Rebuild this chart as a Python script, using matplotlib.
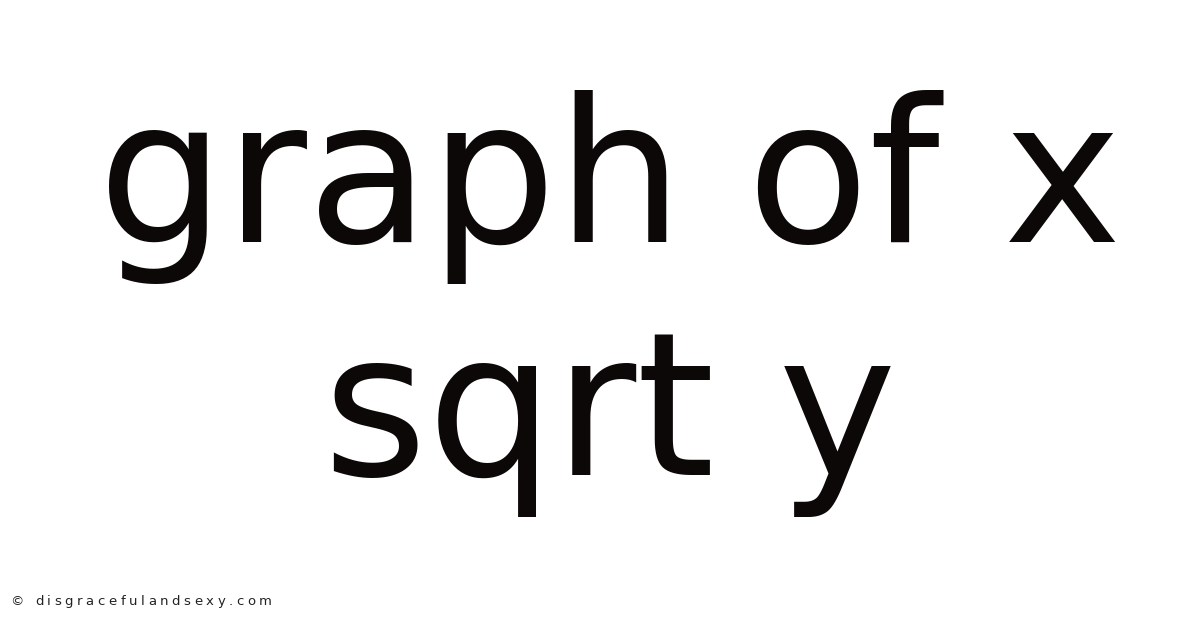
import matplotlib
matplotlib.use("Agg")
import matplotlib.pyplot as plt
from matplotlib.font_manager import FontProperties

title_lines = ["graph of x", "sqrt y"]
watermark = "© disgracefulandsexy.com"

fig = plt.figure(figsize=(12, 6.28), dpi=100)
fig.patch.set_facecolor("white")
W, H = 1200, 628
baselines = [242, 475]
for line, b in zip(title_lines, baselines):
    fig.text(610 / W, 1 - b / H, line, ha="center", va="baseline",
             fontsize=144, family="DejaVu Sans", color="#0d0808")

# watermark: letter-spaced small text, drawn one character at a time
wm_size = 9.5
prop = FontProperties(family="DejaVu Sans", size=wm_size)
renderer = fig.canvas.get_renderer()
widths = []
for ch in watermark:
    w, h, d = renderer.get_text_width_height_descent(ch, prop, ismath=False)
    widths.append(w)
x_start, x_end = 10, 272
gap = (x_end - x_start - sum(widths)) / (len(watermark) - 1)
x = x_start
for ch, w in zip(watermark, widths):
    fig.text(x / W, 1 - 605 / H, ch, ha="left", va="baseline",
             fontproperties=prop, color="#222222")
    x += w + gap
fig.savefig("out.png", dpi=100, facecolor="white")
